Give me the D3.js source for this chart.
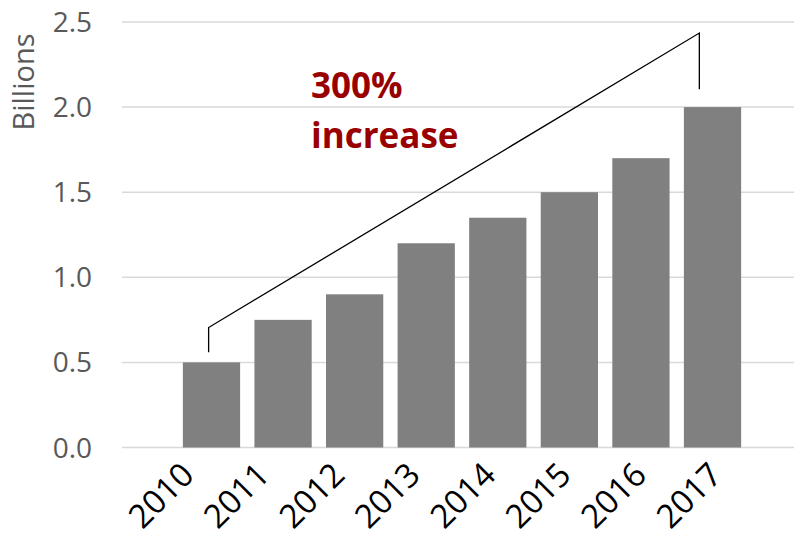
<!DOCTYPE html>
<html>
<head>
<meta charset="utf-8">
<script src="https://cdn.jsdelivr.net/npm/d3@7"></script>
<style>
  html, body { margin: 0; padding: 0; background: #fff; }
  svg { display: block; }
</style>
</head>
<body>
<svg id="chart" width="794" height="540"></svg>
<script>
// ---- data ----
const years = ["2010", "2011", "2012", "2013", "2014", "2015", "2016", "2017"];
const values = [0.5, 0.75, 0.9, 1.2, 1.35, 1.5, 1.7, 2.0];
const yTicks = [0.0, 0.5, 1.0, 1.5, 2.0, 2.5];
const axisTitle = "Billions";
const noteLines = ["300%", "increase"];
// bracket from 2010 bar to 2017 bar (value units)
const bracket = [
  { year: "2010", v: 0.56 },
  { year: "2010", v: 0.705 },
  { year: "2017", v: 2.435 },
  { year: "2017", v: 2.105 }
];

// ---- layout ----
const svg = d3.select("#chart");
const gridLeft = 122, gridRight = 794;

const x = d3.scaleBand().domain(years).range([175.7, 748.3]).paddingInner(0.2).paddingOuter(0.1);
const xLabel = d3.scalePoint().domain(years).range([179, 707]);
const y = d3.scaleLinear().domain([0, 2.5]).range([447.5, 22]);

// gridlines
svg.append("g").selectAll("line").data(yTicks).join("line")
  .attr("x1", gridLeft).attr("x2", gridRight)
  .attr("y1", d => y(d)).attr("y2", d => y(d))
  .attr("stroke", "#d9d9d9").attr("stroke-width", 1.5);

// y tick labels
svg.append("g").selectAll("text").data(yTicks).join("text")
  .attr("x", 92).attr("y", d => y(d))
  .attr("dy", "0.36em")
  .attr("text-anchor", "end")
  .attr("font-family", "'Open Sans', sans-serif")
  .attr("font-size", 28)
  .attr("fill", "#595959")
  .text(d => d3.format(".1f")(d));

// axis title
svg.append("text")
  .attr("transform", "translate(34,82) rotate(-90)")
  .attr("text-anchor", "middle")
  .attr("font-family", "'Open Sans', sans-serif")
  .attr("font-size", 29)
  .attr("fill", "#595959")
  .text(axisTitle);

// bars
svg.append("g").selectAll("rect").data(years).join("rect")
  .attr("x", d => x(d))
  .attr("width", x.bandwidth())
  .attr("y", (d, i) => y(values[i]))
  .attr("height", (d, i) => y(0) - y(values[i]))
  .attr("fill", "#808080");

// x labels
svg.append("g").selectAll("text").data(years).join("text")
  .attr("transform", d => `translate(${xLabel(d)},460) rotate(-45)`)
  .attr("dy", "0.72em")
  .attr("text-anchor", "end")
  .attr("font-family", "'Open Sans', sans-serif")
  .attr("font-size", 33)
  .attr("fill", "#000")
  .text(d => d);

// bracket
const bx = { "2010": 0.45, "2017": 0.27 };
const line = d3.line()
  .x(d => x(d.year) + x.bandwidth() * bx[d.year])
  .y(d => y(d.v));
svg.append("path")
  .attr("d", line(bracket))
  .attr("fill", "none")
  .attr("stroke", "#000")
  .attr("stroke-width", 1.3);

// annotation text
svg.append("g").selectAll("text").data(noteLines).join("text")
  .attr("x", 311)
  .attr("y", (d, i) => 98 + i * 50)
  .attr("font-family", "'Open Sans', sans-serif")
  .attr("font-weight", "bold")
  .attr("font-size", 35)
  .attr("fill", "#990000")
  .text(d => d);
</script>
</body>
</html>
